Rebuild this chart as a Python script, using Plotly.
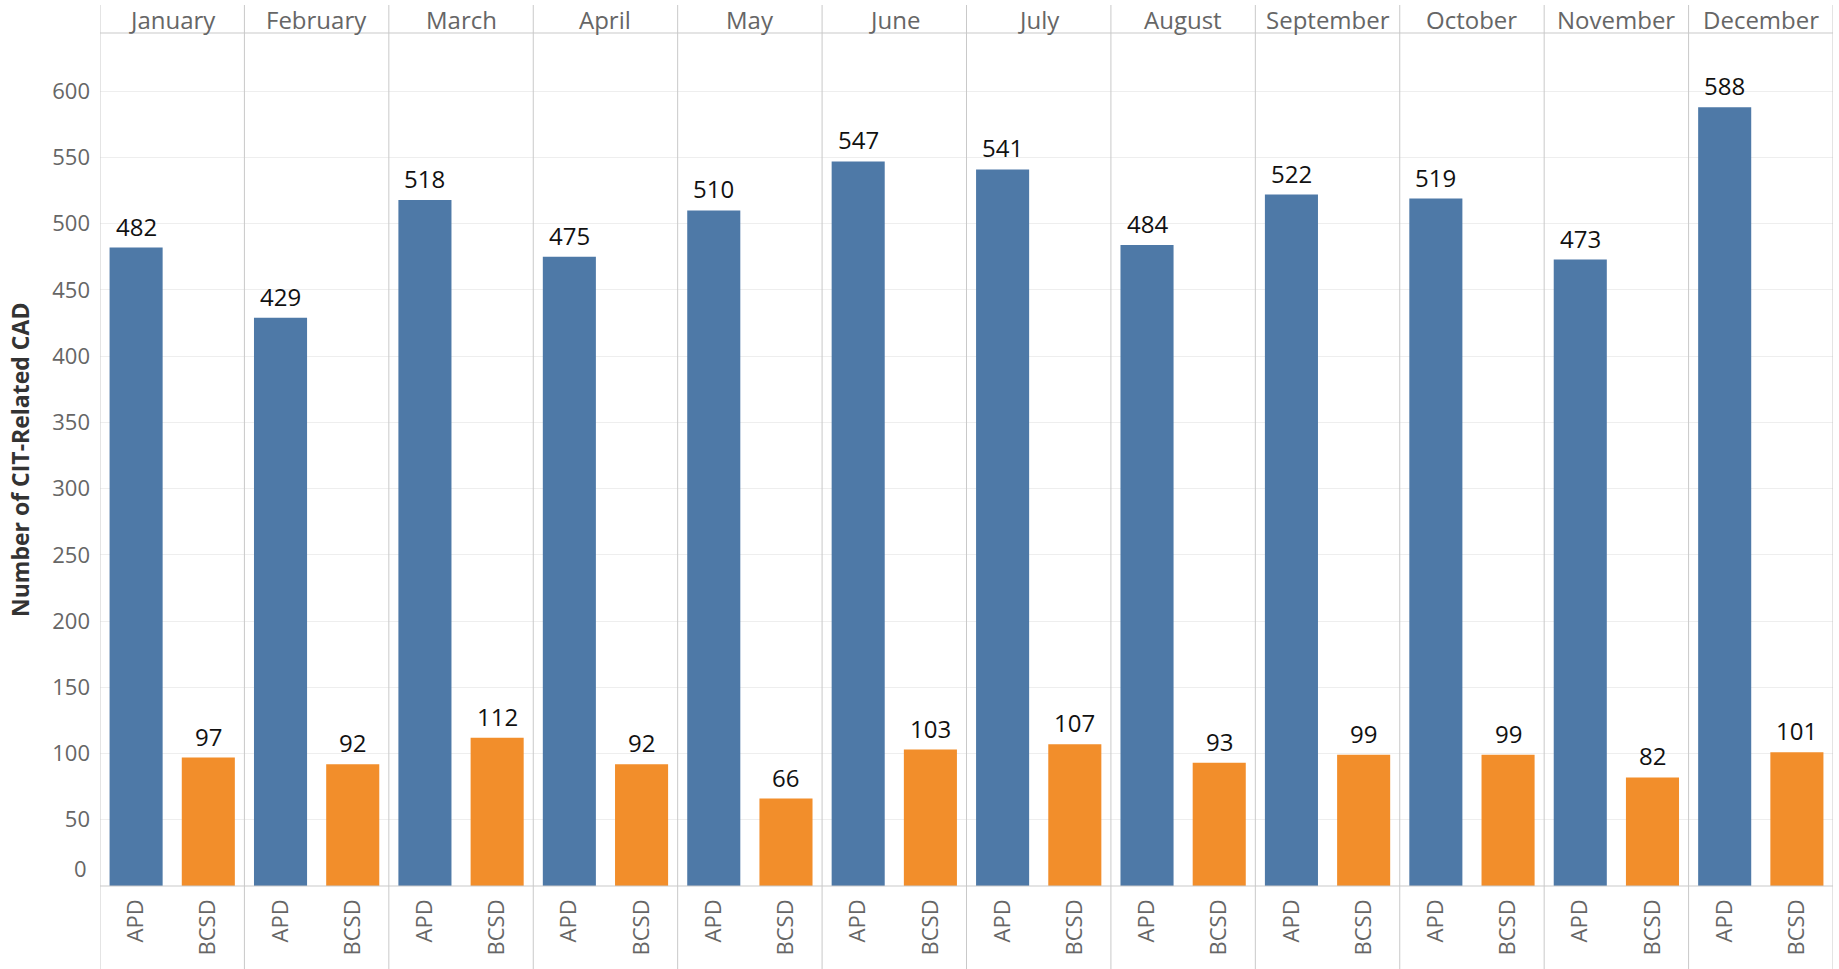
import plotly.graph_objects as go

months = ["January", "February", "March", "April", "May", "June",
          "July", "August", "September", "October", "November", "December"]
agencies = ["APD", "BCSD"]
apd_counts = [482, 429, 518, 475, 510, 547, 541, 484, 522, 519, 473, 588]
bcsd_counts = [97, 92, 112, 92, 66, 103, 107, 93, 99, 99, 82, 101]
y_ticks = [0, 50, 100, 150, 200, 250, 300, 350, 400, 450, 500, 550, 600]

BLUE = "#4e79a7"
ORANGE = "#f28e2b"
FONT = "Open Sans"
LINE = "#c9c9c9"

W, H = 1839, 969
L, R, T, B = 100, 6, 33, 83
plot_h = H - T - B

def py(px):
    """pixel row -> paper y"""
    return (H - B - px) / plot_h

n = len(months)
apd_x = [2 * i + 0.5 for i in range(n)]
bcsd_x = [2 * i + 1.5 for i in range(n)]

fig = go.Figure()
fig.add_trace(go.Bar(x=apd_x, y=apd_counts, width=0.735, marker_color=BLUE,
                     marker_line_width=0, name="APD"))
fig.add_trace(go.Bar(x=bcsd_x, y=bcsd_counts, width=0.735, marker_color=ORANGE,
                     marker_line_width=0, name="BCSD"))

annotations = []
# value labels above bars
for xs, vals in ((apd_x, apd_counts), (bcsd_x, bcsd_counts)):
    for x, v in zip(xs, vals):
        annotations.append(dict(x=x, y=v, xref="x", yref="y", text=str(v),
                                showarrow=False, yanchor="bottom", yshift=3,
                                font=dict(family=FONT, size=24, color="#111111")))
# month headers
for i, m in enumerate(months):
    annotations.append(dict(x=2 * i + 1, y=py(19), xref="x", yref="paper", text=m,
                            showarrow=False, yanchor="middle",
                            font=dict(family=FONT, size=24, color="#666666")))
# zero label sits slightly above the baseline
annotations.append(dict(x=0, y=py(868), xref="paper", yref="paper", text="0",
                        showarrow=False, xanchor="right", yanchor="middle", xshift=-11,
                        font=dict(family=FONT, size=22, color="#666666")))
# axis title
annotations.append(dict(x=(20 - L) / (W - L - R), y=py(460), xref="paper",
                        yref="paper", text="<b>Number of CIT-Related CAD</b>",
                        textangle=-90, showarrow=False, xanchor="center", yanchor="middle",
                        font=dict(family=FONT, size=23, color="#333333")))

shapes = []
# pane dividers, including outer borders
for i in range(n + 1):
    shapes.append(dict(type="line", xref="x", yref="paper", x0=2 * i, x1=2 * i,
                       y0=py(5), y1=py(H), line=dict(color=LINE, width=1), layer="above"))
# header rule and baseline
shapes.append(dict(type="line", xref="paper", yref="paper", x0=0, x1=1, y0=1, y1=1,
                   line=dict(color=LINE, width=1)))
shapes.append(dict(type="line", xref="paper", yref="paper", x0=0, x1=1, y0=0, y1=0,
                   line=dict(color=LINE, width=1), layer="above"))

fig.update_layout(
    width=W, height=H,
    margin=dict(l=L, r=R, t=T, b=B),
    paper_bgcolor="white", plot_bgcolor="white",
    showlegend=False,
    barmode="overlay",
    annotations=annotations,
    shapes=shapes,
    xaxis=dict(range=[0, 2 * n], tickmode="array",
               tickvals=apd_x + bcsd_x,
               ticktext=[agencies[0]] * n + [agencies[1]] * n,
               tickangle=-90, showgrid=False, zeroline=False, showline=False,
               ticks="", ticklabelstandoff=8,
               tickfont=dict(family=FONT, size=22, color="#666666")),
    yaxis=dict(range=[0, 644], tickmode="array", tickvals=y_ticks[1:],
               ticktext=[str(v) for v in y_ticks[1:]],
               showgrid=True, gridcolor="#eeeeee", gridwidth=1,
               zeroline=False, showline=False, ticks="", ticklabelstandoff=9,
               tickfont=dict(family=FONT, size=22, color="#666666")),
)

fig.write_html("out.html")
